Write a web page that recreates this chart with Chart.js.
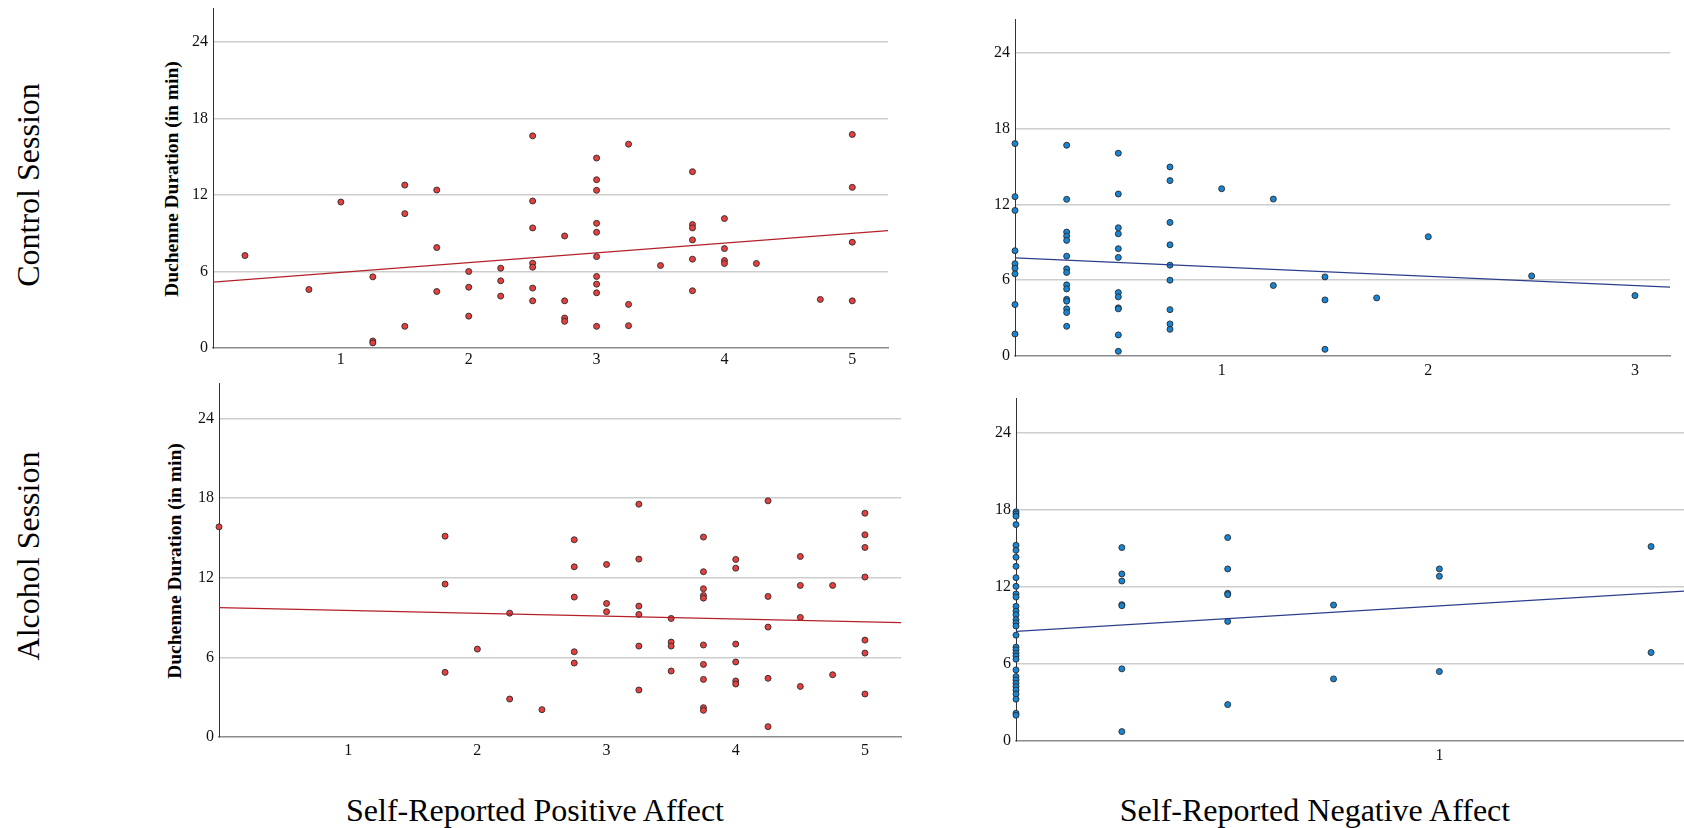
<!DOCTYPE html>
<html>
<head>
<meta charset="utf-8">
<title>Duchenne duration vs self-reported affect</title>
<script src="https://cdn.jsdelivr.net/npm/chart.js@4.4.0/dist/chart.umd.min.js"></script>
<style>
  body { margin: 0; background: #fff; width: 1684px; height: 828px; position: relative; overflow: hidden; }
  canvas { position: absolute; }
  .lbl { position: absolute; font-family: 'Liberation Serif', 'Times New Roman', serif; color: #000; white-space: nowrap; line-height: 1; transform: translate(-50%, -50%); }
  .rot { transform: translate(-50%, -50%) rotate(-90deg); }
  .big { font-size: 32px; }
  .ytitle { font-size: 19.5px; font-weight: bold; }
</style>
</head>
<body>
<div class="lbl big rot" style="left:28px; top:185px">Control Session</div>
<div class="lbl big rot" style="left:28px; top:556px">Alcohol Session</div>
<div class="lbl ytitle rot" style="left:172px; top:179px">Duchenne Duration (in min)</div>
<div class="lbl ytitle rot" style="left:175px; top:561px">Duchenne Duration (in min)</div>
<div class="lbl big" style="left:535px; top:810px">Self-Reported Positive Affect</div>
<div class="lbl big" style="left:1315px; top:810px">Self-Reported Negative Affect</div>

<canvas id="ctrlPos" width="715" height="370"></canvas>
<canvas id="ctrlNeg" width="695" height="366"></canvas>
<canvas id="alcPos" width="722" height="383"></canvas>
<canvas id="alcNeg" width="708" height="372"></canvas>

<script>
// control session, positive affect
const ctrlPosX = [0.25, 0.75, 1, 1.25, 1.25, 1.25, 1.5, 1.5, 1.5, 1.75, 1.75, 1.75, 2, 2, 2, 2.25, 2.25, 2.25,
  2.5, 2.5, 2.5, 2.5, 2.5, 2.5, 2.5, 2.75, 2.75, 2.75, 2.75, 3, 3, 3, 3, 3, 3, 3, 3, 3, 3,
  3.25, 3.25, 3.25, 3.5, 3.75, 3.75, 3.75, 3.75, 3.75, 3.75, 4, 4, 4, 4, 4.25, 4.75, 5, 5, 5, 5];
const ctrlPosY = [7.25, 4.59, 11.45, 5.58, 0.55, 0.4, 12.78, 10.54, 1.7, 12.39, 7.88, 4.43, 6.0, 4.77, 2.5, 6.26, 5.27, 4.07,
  16.64, 11.53, 9.42, 6.65, 6.34, 4.7, 3.7, 8.79, 3.7, 2.35, 2.09, 14.9, 13.2, 12.37, 9.78, 9.08, 7.17, 5.61, 5.01, 4.33, 1.7,
  15.99, 3.42, 1.75, 6.47, 13.83, 9.68, 9.42, 8.48, 6.97, 4.49, 10.15, 7.8, 6.86, 6.63, 6.63, 3.81, 16.75, 12.6, 8.3, 3.7];
const ctrlPosFitX = [0, 5.28];
const ctrlPosFitY = [5.17, 9.21];

// control session, negative affect
const ctrlNegX = [0, 0, 0, 0, 0, 0, 0, 0, 0,
  0.25, 0.25, 0.25, 0.25, 0.25, 0.25, 0.25, 0.25, 0.25, 0.25, 0.25, 0.25, 0.25, 0.25, 0.25,
  0.5, 0.5, 0.5, 0.5, 0.5, 0.5, 0.5, 0.5, 0.5, 0.5, 0.5, 0.5,
  0.75, 0.75, 0.75, 0.75, 0.75, 0.75, 0.75, 0.75, 0.75,
  1, 1.25, 1.25, 1.5, 1.5, 1.5, 1.75, 2, 2.5, 3];
const ctrlNegY = [16.81, 12.61, 11.52, 8.33, 7.3, 6.95, 6.5, 4.07, 1.74,
  16.68, 12.4, 9.81, 9.49, 9.15, 7.9, 6.9, 6.61, 5.63, 5.31, 4.49, 4.34, 3.73, 3.44, 2.35,
  16.05, 12.82, 10.15, 9.67, 8.49, 7.8, 5.02, 4.68, 3.81, 3.73, 1.67, 0.37,
  14.96, 13.88, 10.57, 8.8, 7.19, 6.0, 3.67, 2.54, 2.11,
  13.24, 12.42, 5.58, 6.26, 4.44, 0.53, 4.6, 9.44, 6.34, 4.78];
const ctrlNegFitX = [0, 3.17];
const ctrlNegFitY = [7.77, 5.45];

// alcohol session, positive affect
const alcPosX = [0, 1.75, 1.75, 1.75, 2, 2.25, 2.25, 2.5,
  2.75, 2.75, 2.75, 2.75, 2.75, 3, 3, 3, 3.25, 3.25, 3.25, 3.25, 3.25, 3.25,
  3.5, 3.5, 3.5, 3.5, 3.75, 3.75, 3.75, 3.75, 3.75, 3.75, 3.75, 3.75, 3.75, 3.75,
  4, 4, 4, 4, 4, 4, 4.25, 4.25, 4.25, 4.25, 4.25, 4.5, 4.5, 4.5, 4.5, 4.75, 4.75,
  5, 5, 5, 5, 5, 5, 5];
const alcPosY = [15.83, 15.13, 11.52, 4.87, 6.62, 9.33, 2.86, 2.06,
  14.86, 12.82, 10.54, 6.42, 5.57, 13.0, 10.06, 9.44, 17.54, 13.4, 9.86, 9.23, 6.85, 3.54,
  8.93, 7.15, 6.85, 4.97, 15.06, 12.45, 11.17, 10.66, 10.46, 6.93, 5.47, 4.34, 2.21, 2.01,
  13.38, 12.72, 7.0, 5.65, 4.22, 3.99, 17.79, 10.59, 8.28, 4.42, 0.78, 13.6, 11.42, 9.01, 3.81, 11.42, 4.69,
  16.86, 15.23, 14.28, 12.05, 7.3, 6.32, 3.24];
const alcPosFitX = [0, 5.28];
const alcPosFitY = [9.74, 8.61];

// alcohol session, negative affect
const alcNegX = [0, 0, 0, 0, 0, 0, 0, 0, 0, 0, 0, 0, 0, 0, 0, 0, 0,
  0, 0, 0, 0, 0, 0, 0, 0, 0, 0, 0, 0, 0, 0, 0, 0, 0,
  0.25, 0.25, 0.25, 0.25, 0.25, 0.25, 0.25,
  0.5, 0.5, 0.5, 0.5, 0.5, 0.5,
  0.75, 0.75, 1, 1, 1, 1.5, 1.5];
const alcNegY = [17.82, 17.66, 17.48, 16.83, 15.22, 14.83, 14.29, 13.58, 12.7, 12.03, 11.43, 11.19, 10.47, 10.1, 9.82, 9.43, 9.19,
  8.94, 8.23, 7.3, 7.09, 6.83, 6.62, 6.36, 5.53, 5.01, 4.75, 4.49, 4.23, 3.97, 3.64, 3.25, 2.16, 2.0,
  15.04, 12.99, 12.44, 10.6, 10.52, 5.61, 0.73,
  15.82, 13.38, 11.48, 11.38, 9.3, 2.83,
  10.57, 4.83, 13.38, 12.81, 5.4, 15.12, 6.88];
const alcNegFitX = [0, 1.578];
const alcNegFitY = [8.52, 11.66];

const yMax = 26.6;
const serif = "'Liberation Serif', 'Times New Roman', serif";

function pairs(xs, ys) {
  return xs.map((x, i) => ({ x: x, y: ys[i] }));
}

function makePanel(id, xs, ys, fitX, fitY, xMax, fill, lineColor, xPad) {
  return new Chart(document.getElementById(id), {
    type: 'scatter',
    data: {
      datasets: [
        {
          data: pairs(fitX, fitY),
          showLine: true,
          borderColor: lineColor,
          borderWidth: 1.2,
          pointRadius: 0,
          order: 0
        },
        {
          data: pairs(xs, ys),
          backgroundColor: fill,
          borderColor: '#2a2a2a',
          borderWidth: 0.9,
          pointRadius: 3,
          clip: false,
          order: 1
        }
      ]
    },
    options: {
      responsive: false,
      maintainAspectRatio: false,
      animation: false,
      events: [],
      layout: { padding: 0 },
      plugins: { legend: { display: false }, tooltip: { enabled: false } },
      scales: {
        x: {
          type: 'linear',
          min: 0,
          max: xMax,
          afterFit: s => { s.height = 30; s.paddingLeft = 0; s.paddingRight = 0; },
          grid: { display: false, drawTicks: false },
          border: { display: true, color: '#8c8c8c', width: 1.5 },
          ticks: {
            stepSize: 1,
            includeBounds: false,
            maxRotation: 0,
            padding: xPad,
            color: '#111',
            font: { family: serif, size: 16 },
            callback: v => (v === 0 ? '' : v)
          }
        },
        y: {
          type: 'linear',
          min: 0,
          max: yMax,
          afterFit: s => { s.width = 40; s.paddingTop = 0; s.paddingBottom = 0; },
          grid: {
            color: c => (c.tick && c.tick.value === 0 ? 'rgba(0,0,0,0)' : '#cdcdcd'),
            lineWidth: 1.5,
            drawTicks: false
          },
          border: { color: '#333', width: 1 },
          ticks: {
            stepSize: 6,
            includeBounds: false,
            padding: 5,
            color: '#111',
            font: { family: serif, size: 16 }
          }
        }
      }
    }
  });
}

// put the plot area of a chart on a given box of the page
function place(chart, box) {
  let a = chart.chartArea;
  const w = Math.round(chart.width + (box.right - box.left) - (a.right - a.left));
  const h = Math.round(chart.height + (box.bottom - box.top) - (a.bottom - a.top));
  chart.resize(w, h);
  a = chart.chartArea;
  chart.canvas.style.left = (box.left - a.left) + 'px';
  chart.canvas.style.top = (box.top - a.top) + 'px';
}

const red = '#e5403f', redLine = '#b3202a';
const blue = '#1784d4', blueLine = '#2c3e8c';

const c1 = makePanel('ctrlPos', ctrlPosX, ctrlPosY, ctrlPosFitX, ctrlPosFitY, 5.28, red, redLine, 2);
const c2 = makePanel('ctrlNeg', ctrlNegX, ctrlNegY, ctrlNegFitX, ctrlNegFitY, 3.17, blue, blueLine, 5);
const c3 = makePanel('alcPos', alcPosX, alcPosY, alcPosFitX, alcPosFitY, 5.28, red, redLine, 4);
const c4 = makePanel('alcNeg', alcNegX, alcNegY, alcNegFitX, alcNegFitY, 1.578, blue, blueLine, 5);

place(c1, { left: 213, top: 9, right: 888, bottom: 348 });
place(c2, { left: 1015, top: 20, right: 1670, bottom: 356 });
place(c3, { left: 219, top: 384, right: 901, bottom: 737 });
place(c4, { left: 1016, top: 399, right: 1684, bottom: 741 });
</script>
</body>
</html>
